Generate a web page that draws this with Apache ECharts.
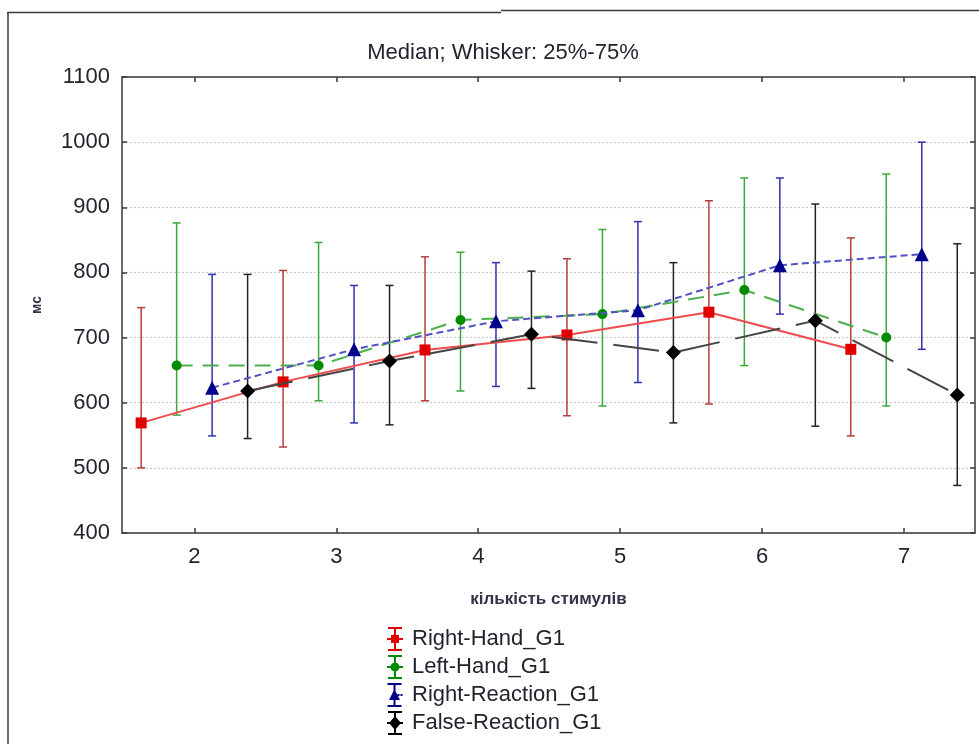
<!DOCTYPE html>
<html>
<head>
<meta charset="utf-8">
<script src="https://cdn.jsdelivr.net/npm/echarts@6/dist/echarts.min.js"></script>
<style>
  html, body { margin: 0; padding: 0; background: #ffffff; }
  #chart { width: 979px; height: 744px; }
</style>
</head>
<body>
<div id="chart"></div>
<script>
// Number of stimuli (x categories) and y-axis ticks
const stimulusCounts = [2, 3, 4, 5, 6, 7];
const yTicks = [400, 500, 600, 700, 800, 900, 1000, 1100];

const seriesNames = ['Right-Hand_G1', 'Left-Hand_G1', 'Right-Reaction_G1', 'False-Reaction_G1'];

// Medians and quartiles (ms)
const rightHandMedian = [569, 632, 681, 704, 739, 682];
const rightHandQ1     = [500, 532, 603, 580, 598, 549];
const rightHandQ3     = [746, 803, 824, 821, 910, 853];

const leftHandMedian  = [657, 657, 727, 736, 773, 700];
const leftHandQ1      = [581, 603, 618, 595, 657, 595];
const leftHandQ3      = [876, 846, 831, 866, 945, 951];

const rightReactionMedian = [623, 682, 725, 742, 811, 828];
const rightReactionQ1     = [549, 569, 625, 631, 736, 682];
const rightReactionQ3     = [797, 780, 815, 878, 945, 1000];

const falseReactionMedian = [618, 664, 705, 677, 726, 612];
const falseReactionQ1     = [545, 566, 622, 569, 564, 473];
const falseReactionQ3     = [797, 780, 802, 815, 905, 844];

// Horizontal dodge of each group inside one stimulus count
const dodge = [-0.375, -0.125, 0.125, 0.375];

const looks = [
  { line: '#f04a4a', marker: '#e00000', whisker: '#b83c3c', dash: 'solid', symbol: 'rect', size: 11,
    icon: 'path://M1,0h14v2h-14Z M1,22h14v2h-14Z M7,0h2v24h-2Z M0,11h16v2h-16Z M4,8h8v8h-8Z' },
  { line: '#4cb04c', marker: '#008c00', whisker: '#3aa83a', dash: [16, 10], symbol: 'circle', size: 10,
    icon: 'path://M1,0h14v2h-14Z M1,22h14v2h-14Z M7,0h2v24h-2Z M0,11h16v2h-16Z M8,7.5A4.5,4.5 0 1,1 7.99,7.5Z' },
  { line: '#5252c6', marker: '#00008c', whisker: '#3030b0', dash: [7, 4], symbol: 'triangle', size: 14,
    icon: 'path://M1,0h14v2h-14Z M1,22h14v2h-14Z M7,0h2v24h-2Z M11,11h2v2h-2Z M14,11h2v2h-2Z M8,6L13.5,17L2.5,17Z' },
  { line: '#444444', marker: '#000000', whisker: '#222222', dash: [46, 16], symbol: 'diamond', size: 15,
    icon: 'path://M1,0h14v2h-14Z M1,22h14v2h-14Z M7,0h2v24h-2Z M0,11h16v2h-16Z M8,5L14,12L8,19L2,12Z' }
];

const medians = [rightHandMedian, leftHandMedian, rightReactionMedian, falseReactionMedian];
const lowers  = [rightHandQ1, leftHandQ1, rightReactionQ1, falseReactionQ1];
const uppers  = [rightHandQ3, leftHandQ3, rightReactionQ3, falseReactionQ3];

const FONT = "'Liberation Sans', Arial, sans-serif";
const TEXT = '#23232e';
const AXIS = '#3a3a3a';

function whiskerRenderer(color) {
  return function (params, api) {
    const x = api.value(0);
    const lo = api.coord([x, api.value(1)]);
    const hi = api.coord([x, api.value(2)]);
    const cap = 4;
    const style = { stroke: color, lineWidth: 1.5 };
    return {
      type: 'group',
      children: [
        { type: 'line', shape: { x1: lo[0], y1: lo[1], x2: hi[0], y2: hi[1] }, style },
        { type: 'line', shape: { x1: lo[0] - cap, y1: lo[1], x2: lo[0] + cap, y2: lo[1] }, style },
        { type: 'line', shape: { x1: hi[0] - cap, y1: hi[1], x2: hi[0] + cap, y2: hi[1] }, style }
      ]
    };
  };
}

const series = [];
seriesNames.forEach(function (name, k) {
  const look = looks[k];
  series.push({
    name: name,
    type: 'custom',
    renderItem: whiskerRenderer(look.whisker),
    encode: { x: 0, y: [1, 2] },
    data: stimulusCounts.map(function (c, i) { return [c + dodge[k], lowers[k][i], uppers[k][i]]; }),
    silent: true,
    clip: false,
    z: 2
  });
});
seriesNames.forEach(function (name, k) {
  const look = looks[k];
  series.push({
    name: name,
    type: 'line',
    data: stimulusCounts.map(function (c, i) { return [c + dodge[k], medians[k][i]]; }),
    symbol: look.symbol,
    symbolSize: look.size,
    showAllSymbol: true,
    itemStyle: { color: look.marker, borderWidth: 0 },
    lineStyle: { color: look.line, width: 2, type: look.dash },
    emphasis: { disabled: true },
    animation: false,
    z: 3 + k
  });
});

const xCommon = {
  type: 'value',
  min: 1.49,
  max: 7.5,
  axisLine: { show: true, onZero: false, lineStyle: { color: AXIS, width: 1.5 } },
  axisTick: { show: true, inside: true, length: 5, customValues: stimulusCounts, lineStyle: { color: AXIS, width: 1.5 } },
  splitLine: { show: false }
};
const yCommon = {
  type: 'value',
  min: 400,
  max: 1100,
  interval: 100,
  axisLine: { show: true, lineStyle: { color: AXIS, width: 1.5 } },
  axisTick: { show: true, inside: true, length: 5, lineStyle: { color: AXIS, width: 1.5 } }
};

const option = {
  animation: false,
  backgroundColor: '#ffffff',
  title: {
    text: 'Median; Whisker: 25%-75%',
    left: 498,
    top: 37,
    textAlign: 'center',
    textStyle: { fontFamily: FONT, fontSize: 22, fontWeight: 'normal', color: TEXT }
  },
  grid: { left: 122, right: 4, top: 77, bottom: 211, containLabel: false },
  xAxis: [
    Object.assign({}, xCommon, {
      position: 'bottom',
      name: 'кількість стимулів',
      nameLocation: 'middle',
      nameGap: 58,
      nameTextStyle: { fontFamily: FONT, fontSize: 17, fontWeight: 'bold', color: '#33334a' },
      axisLabel: { show: true, customValues: stimulusCounts, margin: 13, fontFamily: FONT, fontSize: 22, color: TEXT }
    }),
    Object.assign({}, xCommon, { position: 'top', axisLabel: { show: false } })
  ],
  yAxis: [
    Object.assign({}, yCommon, {
      position: 'left',
      name: 'мс',
      nameLocation: 'middle',
      nameGap: 78,
      nameTextStyle: { fontFamily: FONT, fontSize: 14, fontWeight: 'bold', color: '#33334a' },
      axisLabel: { margin: 12, fontFamily: FONT, fontSize: 22, color: TEXT,
        formatter: function (v) { return yTicks.indexOf(v) >= 0 ? String(v) : ''; } },
      splitLine: { show: true, lineStyle: { color: '#c8c8c8', width: 1.2, type: [2, 2] } }
    }),
    Object.assign({}, yCommon, { position: 'right', axisLabel: { show: false }, splitLine: { show: false } })
  ],
  legend: {
    orient: 'vertical',
    left: 382,
    top: 622,
    itemWidth: 16,
    itemHeight: 24,
    itemGap: 4,
    selectedMode: false,
    textStyle: { fontFamily: FONT, fontSize: 22, color: TEXT, padding: [0, 0, 0, 4] },
    data: seriesNames.map(function (name, k) {
      return { name: name, icon: looks[k].icon, itemStyle: { color: looks[k].marker } };
    })
  },
  graphic: [
    { type: 'line', shape: { x1: 7, y1: 12.5, x2: 501, y2: 12.5 }, style: { stroke: '#3a3a3a', lineWidth: 1.5 } },
    { type: 'line', shape: { x1: 501, y1: 10.5, x2: 979, y2: 10.5 }, style: { stroke: '#3a3a3a', lineWidth: 1.5 } },
    { type: 'line', shape: { x1: 8, y1: 12, x2: 8, y2: 744 }, style: { stroke: '#3a3a3a', lineWidth: 1.5 } }
  ],
  series: series
};

const chart = echarts.init(document.getElementById('chart'), null, { renderer: 'canvas' });
chart.setOption(option);
</script>
</body>
</html>
